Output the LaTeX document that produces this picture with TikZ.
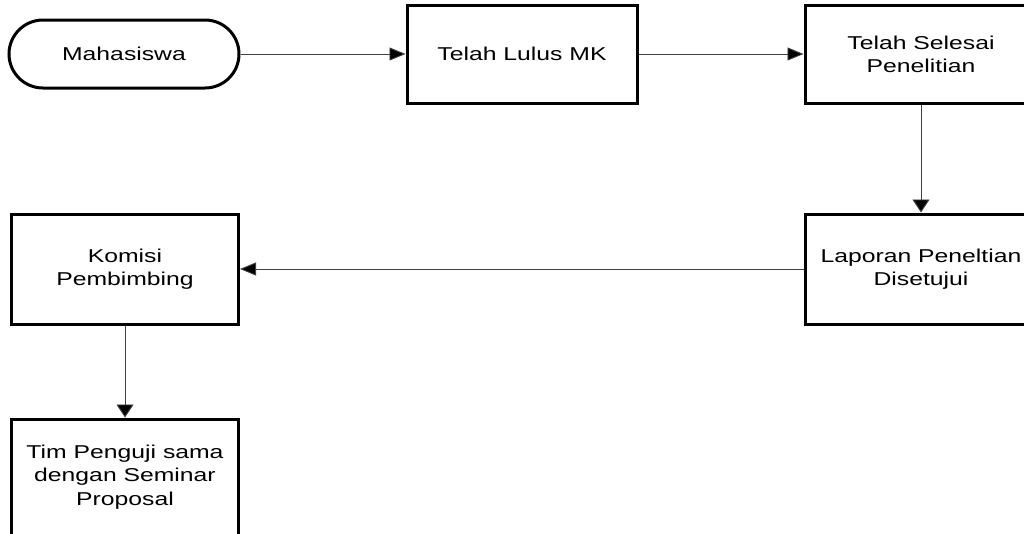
\documentclass[tikz,border=0pt]{standalone}
\usepackage{fontspec}
\setmainfont{Liberation Sans}[FakeStretch=1.33]
\usetikzlibrary{arrows.meta}
\tikzset{
  boxnode/.style={draw=black, line width=3pt, rectangle, align=center, fill=white,
    font=\fontsize{18.6}{23.3}\selectfont, inner sep=0pt},
  termnode/.style={boxnode, rounded corners=34pt},
  conn/.style={draw=black!75, line width=0.9pt},
  harr/.style={conn, -{Triangle[length=16pt,width=13pt,fill=black]}},
  varr/.style={conn, -{Triangle[length=13pt,width=17pt,fill=black]}}
}
\begin{document}
\begin{tikzpicture}[x=1pt,y=-1pt]
\useasboundingbox (0,0) rectangle (1024,533);
\begin{scope}
\clip (0,0) rectangle (1024,533);
\node[termnode, minimum width=230pt, minimum height=68pt] (mhs) at (124,54) {Mahasiswa};
\node[boxnode, minimum width=230pt, minimum height=98pt] (tlm) at (522,54) {Telah Lulus MK};
\node[boxnode, minimum width=232pt, minimum height=98pt] (tsp) at (921,54) {Telah Selesai\\Penelitian};
\node[boxnode, minimum width=232pt, minimum height=110pt] (lpd) at (921,269) {Laporan Peneltian\\Disetujui};
\node[boxnode, minimum width=227pt, minimum height=110pt] (kp) at (125,269) {Komisi\\Pembimbing};
\node[boxnode, minimum width=227pt, minimum height=116pt] (tp) at (125,477) {Tim Penguji sama\\dengan Seminar\\Proposal};
\draw[harr] (mhs.east) -- (tlm.west);
\draw[harr] (tlm.east) -- (tsp.west);
\draw[varr] (tsp.south) -- (lpd.north);
\draw[harr] (lpd.west) -- (kp.east);
\draw[varr] (kp.south) -- (tp.north);
\end{scope}
\end{tikzpicture}
\end{document}
